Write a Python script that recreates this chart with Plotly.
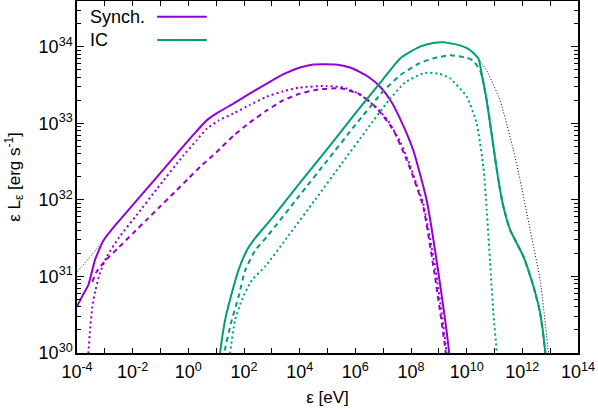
"""Synchrotron and inverse Compton spectra, epsilon L_epsilon vs photon energy"""

import plotly.graph_objects as go

# curves as (log10 eps [eV], log10 eps*L_eps [erg/s])
synch_solid_logx = [-4.0, -3.8, -3.59, -3.35, -3.05, -2.6, -2.1, -1.2, -0.3, 0.2, 0.66, 1.1, 1.62,
                    2.2, 2.82, 3.4, 4.01, 4.5, 4.85, 5.3, 5.81, 6.17, 6.5, 6.89, 7.25, 7.61, 8.08,
                    8.56, 9.04, 9.37, 9.42]
synch_solid_logy = [30.61, 30.75, 30.89, 31.22, 31.47, 31.68, 31.89, 32.27, 32.65, 32.86, 33.04, 33.15, 33.26,
                    33.39, 33.52, 33.64, 33.73, 33.77, 33.775, 33.77, 33.73, 33.67, 33.6, 33.48, 33.31, 33.06, 32.65,
                    32.0, 30.91, 30.0, 29.7]

synch_dot_logx = [-3.61, -3.59, -3.52, -3.45, -3.35, -3.17, -2.93, -2.45, -1.86, -1.14, -0.18, 0.3, 0.66,
                  1.1, 1.62, 2.2, 2.82, 3.4, 4.01, 4.97, 5.57, 6.05, 6.53, 7.13, 7.61, 7.97, 8.2, 8.44,
                  8.92, 9.28, 9.33]
synch_dot_logy = [29.8, 30.0, 30.35, 30.6, 30.8, 31.05, 31.26, 31.53, 31.8, 32.14, 32.58, 32.78, 32.93,
                  33.04, 33.13, 33.24, 33.35, 33.42, 33.47, 33.49, 33.47, 33.4, 33.28, 33.06, 32.76, 32.45, 32.2, 31.95,
                  31.0, 30.0, 29.7]

synch_dash_logx = [-3.45, -3.3, -3.0, -2.5, -2.0, -1.5, -1.0, -0.5, 0.0, 0.5, 1.0, 1.62, 2.2, 2.82, 3.4,
                   4.01, 4.61, 5.45, 6.17, 6.77, 7.37, 7.85, 8.08, 8.44, 8.86, 9.25, 9.3]
synch_dash_logy = [30.93, 31.06, 31.2, 31.38, 31.56, 31.74, 31.92, 32.1, 32.28, 32.46, 32.62, 32.84, 33.01, 33.17, 33.3,
                   33.39, 33.44, 33.46, 33.38, 33.2, 32.91, 32.52, 32.3, 31.91, 31.0, 30.0, 29.7]

ic_solid_logx = [1.08, 1.14, 1.32, 1.56, 1.8, 2.1, 2.4, 3.0, 4.0, 5.0, 6.0, 7.0, 7.61, 8.3, 8.8,
                 9.16, 9.76, 10.12, 10.42, 10.54, 10.72, 10.96, 11.14, 11.32, 11.56, 12.04, 12.4, 12.64,
                 12.82, 12.86]
ic_solid_logy = [29.8, 30.0, 30.43, 30.78, 31.08, 31.34, 31.5, 31.76, 32.22, 32.67, 33.13, 33.58, 33.85,
                 34.0, 34.05, 34.06, 34.02, 33.96, 33.85, 33.65, 33.3, 32.7, 32.26, 31.91, 31.61, 31.26,
                 30.87, 30.52, 30.02, 29.8]

ic_dash_logx = [1.22, 1.29, 1.56, 1.8, 2.04, 2.4, 2.87, 4.0, 5.0, 6.0, 7.0, 7.61, 8.27,
                8.8, 9.4, 10.0, 10.24, 10.48, 10.54, 10.72, 10.96, 11.14, 11.32, 11.56, 12.04, 12.4,
                12.64, 12.82, 12.86]
ic_dash_logy = [29.8, 30.0, 30.43, 30.73, 31.08, 31.34, 31.54, 32.06, 32.52, 32.98, 33.42, 33.63, 33.78,
                33.85, 33.89, 33.86, 33.82, 33.69, 33.63, 33.3, 32.7, 32.26, 31.91, 31.61, 31.26, 30.87,
                30.52, 30.02, 29.8]

ic_dot_logx = [1.45, 1.5, 1.68, 1.92, 2.28, 2.76, 3.59, 4.55, 5.5, 6.41, 7.2, 7.8, 8.5, 9.0, 9.4, 10.0,
               10.36, 10.6, 10.72, 10.84, 10.96, 11.08, 11.12]
ic_dot_logy = [29.8, 30.0, 30.43, 30.69, 30.95, 31.13, 31.53, 32.0, 32.47, 32.92, 33.3, 33.54, 33.66, 33.65,
               33.59, 33.35, 33.0, 32.43, 31.87, 31.2, 30.52, 30.02, 29.8]

# thin black dotted model curve, visible at both ends
model_low_logx = [-4.0, -3.5, -3.05]
model_low_logy = [31.06, 31.27, 31.47]
model_high_logx = [10.36, 10.72, 11.2, 11.68, 11.92, 12.28, 12.64, 12.94, 12.98]
model_high_logy = [33.88, 33.69, 33.30, 32.65, 32.26, 31.61, 30.95, 30.0, 29.8]

x_tickvals = [-4, -2, 0, 2, 4, 6, 8, 10, 12, 14]
y_tickvals = [30, 31, 32, 33, 34]

x_range = [-4, 14]
y_range = [30, 34.6]

PURPLE = "#9400D3"
TEAL = "#009E73"
FONT = "Liberation Sans, Arial, sans-serif"


def pw(vals):
    return [10.0 ** v for v in vals]


def power_label(e):
    return f"10<sup>{e}</sup>"


fig = go.Figure()

curves = [
    (model_low_logx, model_low_logy, "black", 1, "1px,2px"),
    (model_high_logx, model_high_logy, "black", 1, "1px,2px"),
    (synch_dot_logx, synch_dot_logy, PURPLE, 2, "2px,3px"),
    (synch_dash_logx, synch_dash_logy, PURPLE, 2, "5px,4px"),
    (synch_solid_logx, synch_solid_logy, PURPLE, 2, "solid"),
    (ic_dot_logx, ic_dot_logy, TEAL, 2, "2px,3px"),
    (ic_dash_logx, ic_dash_logy, TEAL, 2, "5px,4px"),
    (ic_solid_logx, ic_solid_logy, TEAL, 2, "solid"),
]
for lx, ly, col, w, dash in curves:
    fig.add_trace(go.Scatter(
        x=pw(lx), y=pw(ly), mode="lines",
        line=dict(color=col, width=w, dash=dash, shape="spline", smoothing=0.5),
        showlegend=False, hoverinfo="skip",
    ))

# gnuplot style key: text first, then line sample
key = [("Synch.", PURPLE, 0.955), ("IC", TEAL, 0.889)]
for label, col, yk in key:
    fig.add_annotation(x=0.022, y=yk, xref="paper", yref="paper", text=label,
                       showarrow=False, xanchor="left", yanchor="middle",
                       font=dict(family=FONT, size=18, color="black"))
    fig.add_shape(type="line", xref="paper", yref="paper", x0=0.16, x1=0.259,
                  y0=yk, y1=yk, line=dict(color=col, width=2))

axis_common = dict(
    type="log", showgrid=False, zeroline=False, showline=True, mirror="allticks",
    linecolor="black", linewidth=1.5, ticks="inside", tickcolor="black", automargin=False,
    tickfont=dict(family=FONT, size=18, color="black"),
    title_font=dict(family=FONT, size=17, color="black"),
)

fig.update_xaxes(
    **axis_common, range=x_range, tickmode="array", tickvals=pw(x_tickvals),
    ticktext=[power_label(e) for e in x_tickvals], ticklen=5, tickwidth=1,
    minor=dict(dtick=1, ticks="inside", ticklen=5, tickcolor="black"),
    title_text="ε [eV]", title_standoff=10, ticklabelstandoff=2,
)
fig.update_yaxes(
    **axis_common, range=y_range, tickmode="array", tickvals=pw(y_tickvals),
    ticktext=[power_label(e) for e in y_tickvals], ticklen=7, tickwidth=1,
    minor=dict(dtick="D1", ticks="inside", ticklen=4, tickcolor="black"),
    title_text="ε L<sub>ε</sub> [erg s<sup>-1</sup>]", title_standoff=14, ticklabelstandoff=-1,
)

fig.update_layout(
    width=598, height=411,
    margin=dict(l=77, r=20, t=1, b=58),
    plot_bgcolor="white", paper_bgcolor="white",
    font=dict(family=FONT, size=17, color="black"),
)

# drop the default page margin so the figure sits at the window's corner
fig.write_html("out.html", config={"displayModeBar": False},
               post_script="document.body.style.margin = '0px';")
